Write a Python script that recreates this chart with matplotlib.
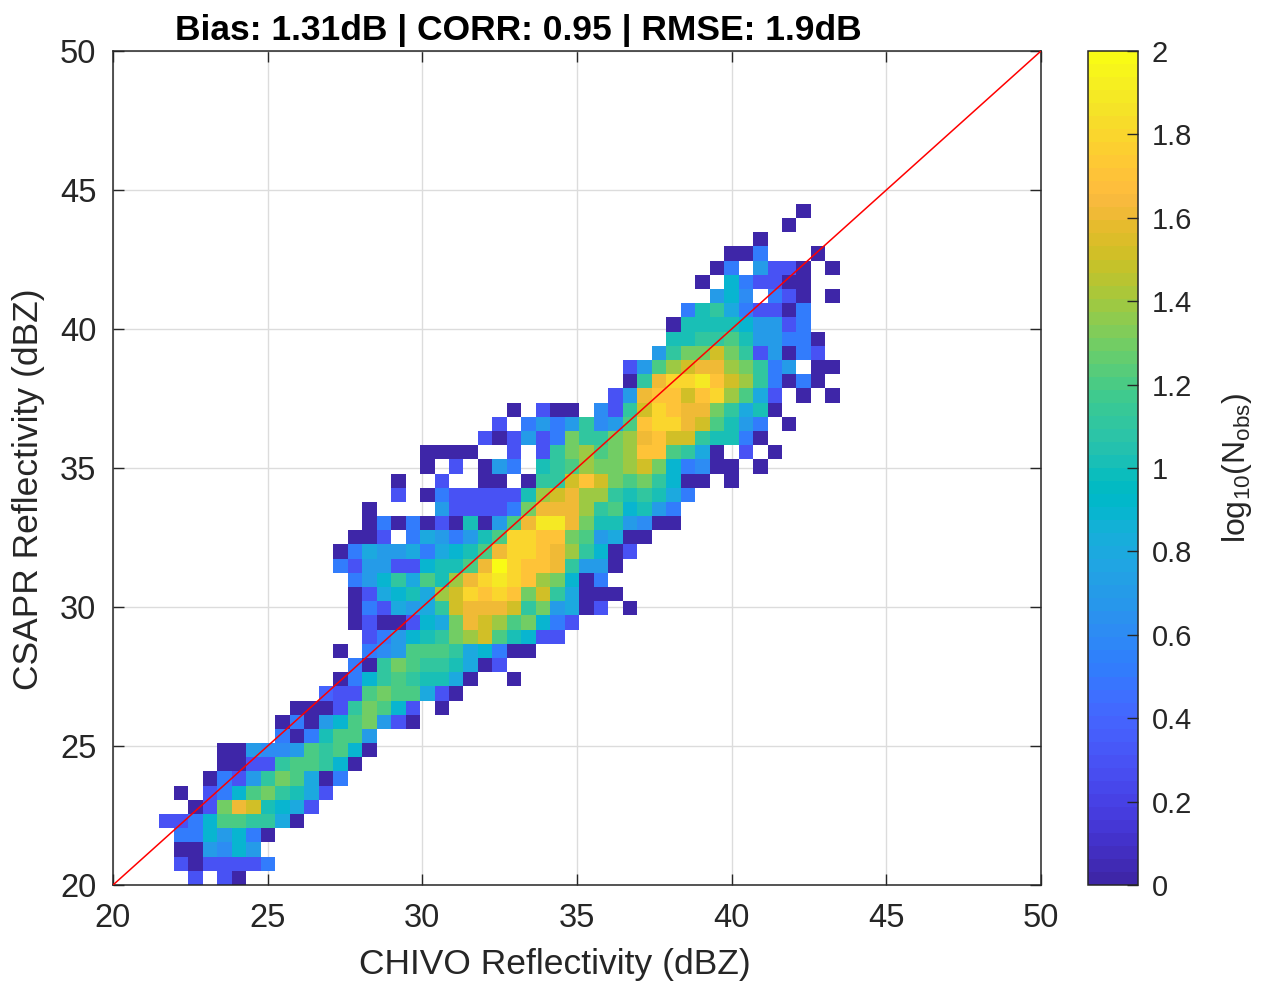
import numpy as np
import matplotlib.pyplot as plt
from matplotlib.colors import ListedColormap

plt.rcParams['font.family'] = ['Liberation Sans', 'DejaVu Sans']
plt.rcParams['mathtext.fontset'] = 'custom'
plt.rcParams['mathtext.rm'] = 'Liberation Sans'

# parula colour table (64 entries)
parula = ListedColormap([
    [0.2422, 0.1504, 0.6603], [0.2504, 0.1650, 0.7076], [0.2578, 0.1818, 0.7511], [0.2647, 0.1978, 0.7952],
    [0.2706, 0.2147, 0.8364], [0.2751, 0.2342, 0.8710], [0.2783, 0.2559, 0.8991], [0.2803, 0.2782, 0.9221],
    [0.2813, 0.3006, 0.9414], [0.2810, 0.3228, 0.9579], [0.2795, 0.3447, 0.9717], [0.2760, 0.3667, 0.9829],
    [0.2699, 0.3892, 0.9906], [0.2602, 0.4123, 0.9952], [0.2440, 0.4358, 0.9988], [0.2206, 0.4603, 0.9973],
    [0.1963, 0.4847, 0.9892], [0.1834, 0.5074, 0.9798], [0.1786, 0.5289, 0.9682], [0.1764, 0.5499, 0.9520],
    [0.1687, 0.5703, 0.9359], [0.1540, 0.5902, 0.9218], [0.1460, 0.6091, 0.9079], [0.1380, 0.6276, 0.8973],
    [0.1248, 0.6459, 0.8883], [0.1113, 0.6635, 0.8763], [0.0952, 0.6798, 0.8598], [0.0689, 0.6948, 0.8394],
    [0.0297, 0.7082, 0.8163], [0.0036, 0.7203, 0.7917], [0.0067, 0.7312, 0.7660], [0.0433, 0.7411, 0.7394],
    [0.0964, 0.7500, 0.7120], [0.1408, 0.7584, 0.6842], [0.1717, 0.7670, 0.6554], [0.1938, 0.7758, 0.6251],
    [0.2161, 0.7843, 0.5923], [0.2470, 0.7918, 0.5567], [0.2906, 0.7973, 0.5188], [0.3406, 0.8008, 0.4789],
    [0.3909, 0.8029, 0.4354], [0.4456, 0.8024, 0.3909], [0.5044, 0.7993, 0.3480], [0.5616, 0.7942, 0.3045],
    [0.6174, 0.7876, 0.2612], [0.6720, 0.7793, 0.2227], [0.7242, 0.7698, 0.1910], [0.7738, 0.7598, 0.1646],
    [0.8203, 0.7498, 0.1535], [0.8634, 0.7406, 0.1596], [0.9035, 0.7330, 0.1774], [0.9393, 0.7288, 0.2100],
    [0.9728, 0.7298, 0.2394], [0.9956, 0.7434, 0.2371], [0.9970, 0.7659, 0.2199], [0.9952, 0.7893, 0.2028],
    [0.9892, 0.8136, 0.1885], [0.9786, 0.8386, 0.1766], [0.9676, 0.8639, 0.1643], [0.9610, 0.8890, 0.1537],
    [0.9597, 0.9135, 0.1423], [0.9628, 0.9373, 0.1265], [0.9691, 0.9606, 0.1064], [0.9769, 0.9839, 0.0805],
])

# histogram bins (dBZ)
x_edges = np.linspace(21.5, 43.5, 48)
y_edges = np.linspace(20.0, 44.5, 49)

# log10 of counts per bin, one string per row from the top bin down.
# each char is a tenth of log10(N): '0'-'9' -> 0.0-0.9, 'A'-'K' -> 1.0-2.0, '.' = no obs
row_start = [44, 43, 41, 39, 38, 37, 38, 36, 35, 35, 34, 32, 32, 31, 24, 23,
             22, 18, 18, 16, 16, 14, 14, 13, 12, 12, 13, 13, 13, 13, 14, 12,
             13, 12, 11, 9, 8, 8, 4, 4, 3, 1, 2, 0, 1, 1, 1, 2]
row_codes = [
    "0", "0", "0", "005...0", "05.7330.0", "0.953300", "796.530.0", "5AB853305",
    "0AAAA97735", "AABBCA77550", "7BDDFDB37053", "37CEFGGEDB57.00", "0BGIIJHFEB5050",
    "37GHHFHIEC83.0.0", "0.300.63BFIHGGDB8A0", "3.5757B67CHIIGFCA75.0",
    "303735DBBDEGHFFBAA50", "0000..3.3BDECDEHHCB80.3.0", "0.3.075.ABCEDDEFD95600.0",
    "0..3..00.0BBFHFDCDB900.0", "3.0533333AEFGEEBABA85", "0....733335DGGGEBC9A75",
    "0505030A07CGJJGDAA7600", "003.58757ACIIHHDC7800", "058778589ACGIIHGEB903",
    "5377339AACGKIHHGB770", "579B8CAEGIJIHED905", "0389A8EFIHIHDFB8000",
    "053878BFGGGFBD7803.0", "0300398DGFECD953", "3579ABDEFCA933", "0.567CCCB89500",
    "50BDCBBA803", "059BCBAA80..0", "433CDCC830", "0003BDC93.0", "05079CD730",
    "505ACC7", "007667CBC90", "0033BCCB90", "0537BDC805", "0.359CDBA83",
    "03DGFA983", "3359CCBB80", "5597950", "007697", "3033335", "3.30",
]

nx, ny = len(x_edges) - 1, len(y_edges) - 1
logN = np.full((ny, nx), np.nan)
for r, (s, codes) in enumerate(zip(row_start, row_codes)):
    for k, c in enumerate(codes):
        if c != '.':
            logN[ny - 1 - r, s + k] = int(c, 36) / 10.0
logN = np.ma.masked_invalid(logN)

title = 'Bias: 1.31dB | CORR: 0.95 | RMSE: 1.9dB'
ink = '#262626'

fig = plt.figure(figsize=(12.63, 9.85), dpi=100)
ax = fig.add_axes([113 / 1263, 100 / 985, 928 / 1263, 834 / 985])
cax = fig.add_axes([1088 / 1263, 100 / 985, 50 / 1263, 834 / 985])

mesh = ax.pcolormesh(x_edges, y_edges, logN, cmap=parula, vmin=0, vmax=2,
                     edgecolors='none', zorder=2)
ax.plot([20, 50], [20, 50], color='red', lw=1.1, zorder=3)

ax.set_xlim(20, 50)
ax.set_ylim(20, 50)
ax.set_xticks(np.arange(20, 51, 5))
ax.set_yticks(np.arange(20, 51, 5))
ax.grid(True, color='#dcdcdc', lw=1.0, zorder=0)
ax.set_axisbelow(True)
ax.tick_params(direction='in', length=8, width=1, top=True, right=True,
               labelsize=23.5, colors=ink)
ax.tick_params(axis='x', pad=13)
ax.tick_params(axis='y', pad=12)
for sp in ax.spines.values():
    sp.set_linewidth(1.1)
    sp.set_color(ink)

ax.set_xlabel('CHIVO Reflectivity (dBZ)', fontsize=25.5, color=ink)
ax.xaxis.set_label_coords(0.476, -0.0755)
ax.set_ylabel('CSAPR Reflectivity (dBZ)', fontsize=25.5, color=ink)
ax.yaxis.set_label_coords(-0.0733, 0.475)
ax.set_title(title, fontsize=25.5, fontweight='bold', x=0.437, pad=8)

cb = fig.colorbar(mesh, cax=cax)
cb.set_ticks(np.arange(0, 2.01, 0.2))
cb.set_ticklabels(['0', '0.2', '0.4', '0.6', '0.8', '1', '1.2', '1.4', '1.6', '1.8', '2'])
cb.ax.tick_params(direction='in', length=8, width=1, labelsize=21, pad=10, colors=ink)
cb.outline.set_linewidth(1.1)
cb.outline.set_edgecolor(ink)
cb.set_label(r'log$_{\mathrm{10}}$(N$_{\mathrm{obs}}$)', fontsize=23, color=ink, labelpad=20)

fig.savefig('out.png', dpi=100)
